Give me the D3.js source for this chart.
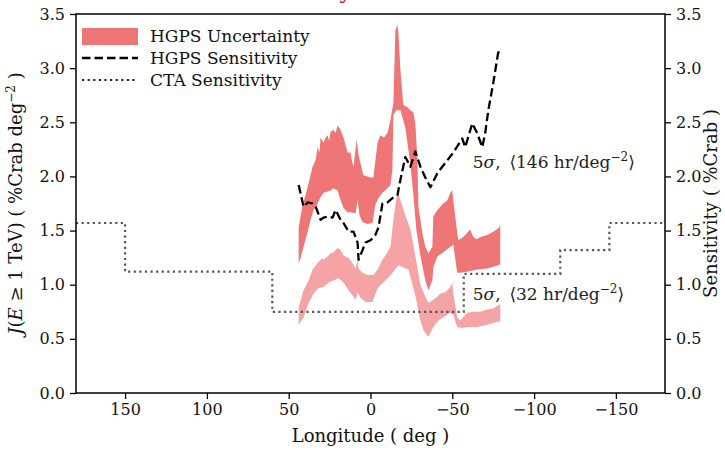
<!DOCTYPE html>
<html>
<head>
<meta charset="utf-8">
<script src="https://cdn.jsdelivr.net/npm/d3@7"></script>
<style>
  html, body { margin: 0; padding: 0; background: #fff; }
  svg { display: block; font-family: "DejaVu Serif", serif; }
  .tick text { font-family: "DejaVu Serif", serif; font-size: 16px; fill: #111; }
</style>
</head>
<body>
<svg id="chart" width="725" height="450"></svg>
<script>
// --- data ---
const xTicks = [150, 100, 50, 0, -50, -100, -150];
const yTicks = [0, 0.5, 1, 1.5, 2, 2.5, 3, 3.5];

// CTA sensitivity: bin edges (longitude) and level inside each bin
const ctaEdges = [180, 150, 60, -57, -116, -146, -180];
const ctaLevels = [1.57, 1.12, 0.75, 1.10, 1.32, 1.57];

// HGPS sensitivity (dashed) [lon, %Crab]
const hgpsSens = [
  [43.9, 1.92], [40.9, 1.72], [38.4, 1.76], [35.4, 1.75], [33.5, 1.72], [30.5, 1.60],
  [28.7, 1.62], [25.6, 1.63], [23.2, 1.62], [21.3, 1.69], [18.3, 1.60], [16.5, 1.57],
  [13.4, 1.49], [10.4, 1.49], [7.9, 1.39], [7.3, 1.23], [4.9, 1.32], [3.0, 1.39],
  [0, 1.41], [-3.0, 1.46], [-4.9, 1.53], [-7.3, 1.75], [-10.4, 1.76], [-13.4, 1.80],
  [-16.5, 1.83], [-18.3, 1.97], [-21.3, 2.18], [-24.4, 2.09], [-27.4, 2.23], [-30.5, 2.09],
  [-33.5, 1.99], [-36.6, 1.90], [-40.9, 2.03], [-47.0, 2.15], [-50.6, 2.22], [-56.1, 2.35],
  [-57.9, 2.27], [-62.2, 2.49], [-65.2, 2.40], [-68.3, 2.27], [-70.1, 2.40], [-72.0, 2.61],
  [-75.0, 2.86], [-78.0, 3.14], [-79.3, 3.17]
];

// upper uncertainty band (dark)
const darkTop = [
  [43.9, 1.53], [41.5, 1.74], [39.6, 1.83], [37.8, 1.94], [35.4, 2.09], [33.6, 2.15],
  [32.3, 2.27], [31.2, 2.22], [30.5, 2.36], [28.7, 2.31], [27.4, 2.36], [26.2, 2.38],
  [25.3, 2.33], [24.4, 2.41], [22.6, 2.43], [21.4, 2.40], [20.1, 2.47], [18.3, 2.43],
  [16.5, 2.36], [15.4, 2.30], [14.0, 2.22], [12.2, 2.22], [11.3, 2.14], [10.4, 2.09],
  [8.5, 2.34], [7.3, 2.20], [6.1, 2.12], [4.3, 2.01], [1.8, 2.00], [0, 1.99],
  [-1.8, 1.99], [-3.0, 2.15], [-4.3, 2.31], [-6.1, 2.38], [-8.2, 2.36], [-10.4, 2.40],
  [-12.2, 2.52], [-14.0, 2.68], [-15.2, 3.35], [-16.5, 3.40], [-17.1, 3.32], [-18.3, 2.98],
  [-20.1, 2.66], [-22.6, 2.64], [-24.4, 2.61], [-26.2, 2.59], [-27.4, 2.49], [-28.7, 2.15],
  [-29.3, 1.72], [-31.7, 1.48], [-33.5, 1.35], [-35.4, 1.29], [-37.8, 1.35], [-38.4, 1.63],
  [-40.9, 1.69], [-42.7, 1.72], [-44.5, 1.75], [-47.0, 1.78], [-48.8, 1.85], [-50.0, 1.87],
  [-50.6, 1.78], [-53.0, 1.48], [-53.7, 1.41], [-56.7, 1.44], [-59.1, 1.48], [-61.0, 1.51],
  [-62.8, 1.44], [-65.0, 1.42], [-67.1, 1.44], [-71.3, 1.46], [-75.0, 1.49], [-78.0, 1.52],
  [-79.3, 1.55]
];
const darkBottom = [
  [43.9, 1.20], [42.7, 1.25], [40.9, 1.35], [38.4, 1.49], [36.6, 1.60], [34.8, 1.69],
  [32.3, 1.75], [30.5, 1.81], [28.7, 1.85], [26.2, 1.86], [24.4, 1.87], [22.6, 1.89],
  [20.1, 1.87], [18.3, 1.78], [16.5, 1.71], [14.0, 1.67], [12.2, 1.67], [9.1, 1.66],
  [7.9, 1.78], [6.7, 1.64], [4.9, 1.58], [1.8, 1.56], [-1.2, 1.57], [-3.0, 1.74],
  [-4.9, 1.80], [-7.3, 1.85], [-10.4, 1.89], [-12.2, 1.92], [-13.4, 2.06], [-14.0, 2.57],
  [-15.9, 2.61], [-18.3, 2.61], [-21.3, 2.45], [-24.4, 2.11], [-26.2, 1.83], [-28.0, 1.51],
  [-30.5, 1.27], [-33.5, 1.04], [-35.4, 0.95], [-37.8, 1.04], [-38.4, 1.16], [-40.9, 1.26],
  [-44.5, 1.30], [-48.8, 1.35], [-50.6, 1.37], [-53.0, 1.11], [-54.9, 1.11], [-59.1, 1.12],
  [-65.2, 1.14], [-71.3, 1.15], [-78.0, 1.18], [-79.3, 1.19]
];

// lower uncertainty band (light)
const lightTop = [
  [43.9, 0.79], [40.9, 0.95], [37.8, 1.04], [35.4, 1.14], [32.3, 1.20], [29.3, 1.25],
  [28.7, 1.23], [26.2, 1.26], [24.4, 1.29], [22.6, 1.30], [20.1, 1.34], [18.3, 1.32],
  [16.5, 1.27], [13.4, 1.25], [11.0, 1.20], [9.1, 1.15], [7.9, 1.23], [7.3, 1.15],
  [4.9, 1.11], [1.8, 1.09], [-1.8, 1.09], [-4.3, 1.14], [-7.3, 1.23], [-10.4, 1.30],
  [-12.2, 1.35], [-14.0, 1.60], [-16.5, 1.87], [-18.3, 1.78], [-21.3, 1.64], [-24.4, 1.51],
  [-27.4, 1.27], [-30.5, 1.00], [-33.5, 0.89], [-35.4, 0.83], [-38.4, 0.86], [-40.9, 0.89],
  [-42.7, 0.92], [-45.7, 0.93], [-48.8, 0.98], [-50.0, 1.02], [-50.6, 0.92], [-53.0, 0.70],
  [-54.9, 0.67], [-59.1, 0.74], [-62.8, 0.75], [-67.1, 0.75], [-71.3, 0.77], [-75.0, 0.78],
  [-78.0, 0.81], [-79.3, 0.82]
];
const lightBottom = [
  [43.9, 0.63], [40.9, 0.70], [37.8, 0.83], [34.8, 0.92], [31.7, 0.97], [28.7, 0.98],
  [25.6, 1.02], [22.6, 1.04], [19.5, 1.06], [16.5, 1.02], [13.4, 0.95], [11.0, 0.90],
  [9.1, 0.86], [7.9, 0.93], [6.1, 0.88], [3.0, 0.84], [-1.2, 0.84], [-3.0, 0.92],
  [-4.9, 0.98], [-7.9, 1.02], [-11.0, 1.07], [-14.0, 1.12], [-17.1, 1.18], [-20.1, 1.16],
  [-23.2, 1.14], [-27.4, 0.90], [-30.5, 0.67], [-32.3, 0.58], [-35.4, 0.52], [-38.4, 0.61],
  [-41.5, 0.67], [-44.5, 0.70], [-48.8, 0.74], [-50.6, 0.72], [-53.0, 0.61], [-56.1, 0.60],
  [-59.1, 0.61], [-65.2, 0.61], [-71.3, 0.63], [-78.0, 0.66], [-79.3, 0.66]
];

// --- styles ---
const darkColor = "#ef7676";
const lightColor = "#f4a4a4";
const ctaColor = "#555";

const width = 725;
const height = 450;
const margin = { top: 14, right: 60, bottom: 57, left: 76 };
const innerW = width - margin.left - margin.right;
const innerH = height - margin.top - margin.bottom;

const svg = d3.select("#chart");

const x = d3.scaleLinear().domain([180, -180]).range([margin.left, margin.left + innerW]);
const y = d3.scaleLinear().domain([0, 3.5]).range([margin.top + innerH, margin.top]);

svg.append("defs").append("clipPath").attr("id", "plot-clip")
  .append("rect")
  .attr("x", margin.left).attr("y", margin.top)
  .attr("width", innerW).attr("height", innerH);

const plot = svg.append("g").attr("clip-path", "url(#plot-clip)");

const line = d3.line().x((d) => x(d[0])).y((d) => y(d[1]));

function bandPath(top, bottom) {
  return line(top.concat(bottom.slice().reverse())) + "Z";
}

plot.append("path")
  .attr("d", bandPath(lightTop, lightBottom))
  .attr("fill", lightColor);

plot.append("path")
  .attr("d", bandPath(darkTop, darkBottom))
  .attr("fill", darkColor);

// CTA steps
const ctaPoints = [];
ctaLevels.forEach((lvl, i) => {
  ctaPoints.push([ctaEdges[i], lvl]);
  ctaPoints.push([ctaEdges[i + 1], lvl]);
});

plot.append("path")
  .attr("d", line(ctaPoints))
  .attr("fill", "none")
  .attr("stroke", ctaColor)
  .attr("stroke-width", 2.2)
  .attr("stroke-dasharray", "2.2,3.4");

plot.append("path")
  .attr("d", line(hgpsSens))
  .attr("fill", "none")
  .attr("stroke", "#000")
  .attr("stroke-width", 2.3)
  .attr("stroke-linejoin", "round")
  .attr("stroke-dasharray", "8.5,4");

// annotations
const note = svg.append("g").attr("font-size", 17).attr("fill", "#222");
function addNote(lon, val, hours) {
  const t = note.append("text").attr("x", x(lon)).attr("y", y(val));
  t.append("tspan").text("5");
  t.append("tspan").attr("font-style", "italic").text("σ");
  t.append("tspan").text(", \u2009\u27e8" + hours + " hr/deg");
  t.append("tspan").attr("font-size", 12).attr("dy", -7).text("\u22122");
  t.append("tspan").attr("dy", 7).text("\u27e9");
}
addNote(-62.5, 2.08, 146);
addNote(-62.5, 0.86, 32);

// axes
const fmtX = (d) => (d < 0 ? "\u2212" + Math.abs(d) : String(d));

const gx = svg.append("g")
  .attr("transform", `translate(0,${margin.top + innerH})`)
  .call(d3.axisBottom(x).tickValues(xTicks).tickFormat(fmtX).tickSize(6).tickPadding(5));

const gyl = svg.append("g")
  .attr("transform", `translate(${margin.left},0)`)
  .call(d3.axisLeft(y).tickValues(yTicks).tickFormat(d3.format(".1f")).tickSize(6).tickPadding(5));

const gyr = svg.append("g")
  .attr("transform", `translate(${margin.left + innerW},0)`)
  .call(d3.axisRight(y).tickValues(yTicks).tickFormat(d3.format(".1f")).tickSize(6).tickPadding(5));

[gx, gyl, gyr].forEach((g) => {
  g.select(".domain").remove();
  g.selectAll(".tick line").attr("stroke", "#000").attr("stroke-width", 1.3);
});

svg.append("rect")
  .attr("x", margin.left).attr("y", margin.top)
  .attr("width", innerW).attr("height", innerH)
  .attr("fill", "none").attr("stroke", "#000").attr("stroke-width", 1.5);

// axis labels
svg.append("text")
  .attr("x", margin.left + innerW / 2).attr("y", 442)
  .attr("text-anchor", "middle").attr("font-size", 18).attr("fill", "#111")
  .text("Longitude ( deg )");

const yl = svg.append("text")
  .attr("transform", `translate(22,${margin.top + innerH / 2}) rotate(-90)`)
  .attr("text-anchor", "middle").attr("font-size", 18).attr("fill", "#111");
yl.append("tspan").attr("font-style", "italic").text("J");
yl.append("tspan").text("(");
yl.append("tspan").attr("font-style", "italic").text("E");
yl.append("tspan").text(" \u2265 1 TeV) ( %Crab deg");
yl.append("tspan").attr("font-size", 12).attr("dy", -7).text("\u22122");
yl.append("tspan").attr("dy", 7).text(" )");

svg.append("text")
  .attr("transform", `translate(717,${margin.top + innerH / 2}) rotate(-90)`)
  .attr("text-anchor", "middle").attr("font-size", 18).attr("fill", "#111")
  .text("Sensitivity ( %Crab )");

// legend
const legend = svg.append("g").attr("font-size", 17).attr("fill", "#111");
legend.append("rect").attr("x", 82).attr("y", 28).attr("width", 56).attr("height", 17).attr("fill", darkColor);
legend.append("line").attr("x1", 82).attr("x2", 138).attr("y1", 58).attr("y2", 58)
  .attr("stroke", "#000").attr("stroke-width", 2.3).attr("stroke-dasharray", "8.5,4");
legend.append("line").attr("x1", 82).attr("x2", 138).attr("y1", 80).attr("y2", 80)
  .attr("stroke", "#222").attr("stroke-width", 2.2).attr("stroke-dasharray", "2.2,3.4");
legend.append("text").attr("x", 150).attr("y", 42).text("HGPS Uncertainty");
legend.append("text").attr("x", 150).attr("y", 64).text("HGPS Sensitivity");
legend.append("text").attr("x", 150).attr("y", 86).text("CTA Sensitivity");

// red heading cut off above the frame, as in the reference
svg.append("text")
  .attr("x", 352).attr("y", -2)
  .attr("text-anchor", "end").attr("font-size", 22).attr("fill", "#e8102a")
  .text("Preliminary");
</script>
</body>
</html>
